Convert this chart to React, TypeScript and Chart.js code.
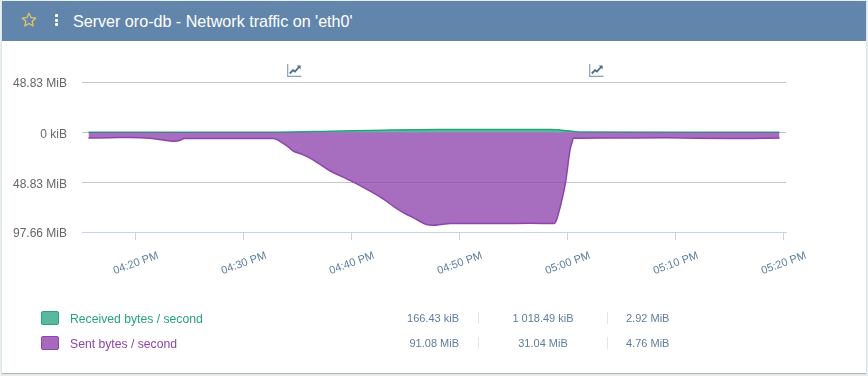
import React, { useEffect, useRef } from "react";
import { Chart, registerables } from "chart.js";

Chart.register(...registerables);

const title = "Server oro-db - Network traffic on 'eth0'";

// Minutes since midnight
const sentTimes = [975.6, 977.6, 979.4, 981.3, 982.8, 983.6, 984.1, 984.5, 988.7, 992.7, 993.1, 993.6, 994.1, 994.5, 995.5, 996.4, 997.8, 1000.1, 1002.6, 1004.4, 1006, 1006.9, 1007.5, 1008.3, 1009.1, 1013.7, 1016.5, 1018.7, 1018.9, 1019.3, 1019.8, 1020.2, 1020.4, 1020.5, 1023, 1029, 1035, 1039.6];
// MiB per second, plotted downward
const sentValues = [-5.4, -5.2, -4.9, -5.7, -7.8, -8.6, -7.6, -6.0, -6.0, -6.0, -7.3, -10.5, -14.2, -17.8, -22, -26.9, -36.6, -48.6, -63.3, -76.4, -85.4, -90.3, -91.08, -90.3, -89.4, -89.3, -89.1, -89.4, -87.1, -72.5, -48, -17, -9.3, -5.7, -5.4, -5.3, -5.9, -5.4];

const receivedTimes = [975.6, 985, 993, 998, 1003, 1008, 1013, 1018.5, 1020, 1021, 1030, 1039.6];
const receivedValues = [0.25, 0.2, 0.3, 1.2, 2.2, 2.85, 2.92, 2.9, 1.6, 0.4, 0.3, 0.3];

const yTicks = [49.5, 0, -48.83, -97.66];
const yTickLabels = ["48.83 MiB", "0 kiB", "48.83 MiB", "97.66 MiB"];
const xTicks = [980, 990, 1000, 1010, 1020, 1030, 1040];
const xTickLabels = ["04:20 PM", "04:30 PM", "04:40 PM", "04:50 PM", "05:00 PM", "05:10 PM", "05:20 PM"];

const legendNames = ["Received bytes / second", "Sent bytes / second"];
const legendColors = ["#27a37e", "#8e44ad"];
const legendFills = ["#5bb8a0", "#a868bc"];
const legendMin = ["166.43 kiB", "91.08 MiB"];
const legendAvg = ["1 018.49 kiB", "31.04 MiB"];
const legendMax = ["2.92 MiB", "4.76 MiB"];

const font = '"Liberation Sans", Arial, sans-serif';

function TrendIcon({ left }: { left: number }) {
  return (
    <svg width="15" height="13" viewBox="0 0 15 13" style={{ position: "absolute", left, top: 64 }}>
      <path d="M0.7 0V12.3H14.5" fill="none" stroke="#8aa0b8" strokeWidth="1.2" />
      <path d="M2.8 9.5L6 6.2L8 7.6L12 3" fill="none" stroke="#4f6c8c" strokeWidth="1.8" />
      <path d="M9.8 1.6H13.6V5.4Z" fill="#4f6c8c" />
    </svg>
  );
}

export default function App() {
  const ref = useRef<HTMLCanvasElement>(null);
  useEffect(() => {
    const chart = new Chart(ref.current!, {
      type: "line",
      data: {
        datasets: [
          {
            label: legendNames[1],
            data: sentTimes.map((x, i) => ({ x, y: sentValues[i] })),
            borderColor: "#8e44ad",
            backgroundColor: "rgba(142,68,173,0.78)",
            borderWidth: 1.5,
            fill: "origin",
            pointRadius: 0,
            cubicInterpolationMode: "monotone",
          },
          {
            label: legendNames[0],
            data: receivedTimes.map((x, i) => ({ x, y: receivedValues[i] })),
            borderColor: "#27a37e",
            backgroundColor: "rgba(39,163,126,0.75)",
            borderWidth: 1.5,
            fill: "origin",
            pointRadius: 0,
            cubicInterpolationMode: "monotone",
          },
        ],
      },
      options: {
        responsive: false,
        animation: false,
        layout: { padding: { top: 82, right: 82, left: 0, bottom: 0 } },
        plugins: { legend: { display: false }, tooltip: { enabled: false } },
        scales: {
          x: {
            type: "linear",
            min: 975,
            max: 1040.2,
            afterFit: (s: any) => { s.height = 376 - 232; },
            afterBuildTicks: (s: any) => { s.ticks = xTicks.map((value) => ({ value })); },
            grid: { drawOnChartArea: false, color: "#c5d5e5", tickLength: 8 },
            border: { color: "#c5d5e5" },
            ticks: {
              autoSkip: false,
              maxRotation: 20,
              minRotation: 20,
              labelOffset: 22,
              padding: 9,
              color: "#5f7d9e",
              font: { family: font, size: 11 },
              callback: (v: any) => xTickLabels[xTicks.indexOf(Number(v))],
            },
          },
          y: {
            min: -97.66,
            max: 49.5,
            afterFit: (s: any) => { s.width = 82; },
            afterBuildTicks: (s: any) => { s.ticks = yTicks.map((value) => ({ value })); },
            grid: { color: "#c6c6c6", drawTicks: false },
            border: { display: false },
            ticks: {
              padding: 15,
              labelOffset: 2,
              color: "#666666",
              font: { family: font, size: 12 },
              callback: (v: any) => yTickLabels[yTicks.indexOf(Number(v))],
            },
          },
        },
      },
    } as any);
    return () => chart.destroy();
  }, []);

  return (
    <div style={{ position: "absolute", left: 0, top: 0, width: 868, height: 376, background: "#e9eff1", overflow: "hidden", fontFamily: font }}>
      <div style={{ position: "absolute", left: 2, top: 1, width: 864, height: 372, background: "#fff", boxShadow: "0 1px 1px #b5b5b5" }} />
      <canvas ref={ref} width={868} height={376} style={{ position: "absolute", left: 0, top: 0 }} />
      <div style={{ position: "absolute", left: 2, top: 1, width: 864, height: 40, background: "#6286ab" }} />
      <svg width="16" height="15" viewBox="0 0 16 15" style={{ position: "absolute", left: 21, top: 12 }}>
        <path d="M8 1.2L10 5.6L14.8 6.1L11.2 9.3L12.2 14L8 11.6L3.8 14L4.8 9.3L1.2 6.1L6 5.6Z" fill="none" stroke="#e9c95f" strokeWidth="1.2" strokeLinejoin="round" />
      </svg>
      <div style={{ position: "absolute", left: 54.5, top: 14, width: 3, height: 3, background: "#fff", borderRadius: 1 }} />
      <div style={{ position: "absolute", left: 54.5, top: 18.5, width: 3, height: 3, background: "#fff", borderRadius: 1 }} />
      <div style={{ position: "absolute", left: 54.5, top: 23, width: 3, height: 3, background: "#fff", borderRadius: 1 }} />
      <div style={{ position: "absolute", left: 73, top: 11, color: "#fff", fontSize: 16.1, lineHeight: "20px", whiteSpace: "nowrap" }}>{title}</div>
      <TrendIcon left={287} />
      <TrendIcon left={589} />
      {legendNames.map((name, i) => {
        const top = 311 + i * 25;
        const val: React.CSSProperties = { position: "absolute", top, lineHeight: "15px", fontSize: 11, color: "#5f7d9e", whiteSpace: "nowrap" };
        const sep: React.CSSProperties = { position: "absolute", top: top + 1, width: 1, height: 12, background: "#dfe6ec" };
        return (
          <React.Fragment key={name}>
            <div style={{ position: "absolute", left: 41, top, width: 18, height: 14, boxSizing: "border-box", background: legendFills[i], border: `1px solid ${legendColors[i]}`, borderRadius: 2 }} />
            <div style={{ position: "absolute", left: 70, top, lineHeight: "16px", fontSize: 12.2, color: legendColors[i], whiteSpace: "nowrap" }}>{name}</div>
            <div style={{ ...val, right: 868 - 459 }}>{legendMin[i]}</div>
            <div style={{ ...sep, left: 478 }} />
            <div style={{ ...val, left: 483, width: 120, textAlign: "center" }}>{legendAvg[i]}</div>
            <div style={{ ...sep, left: 607 }} />
            <div style={{ ...val, left: 626 }}>{legendMax[i]}</div>
          </React.Fragment>
        );
      })}
    </div>
  );
}
